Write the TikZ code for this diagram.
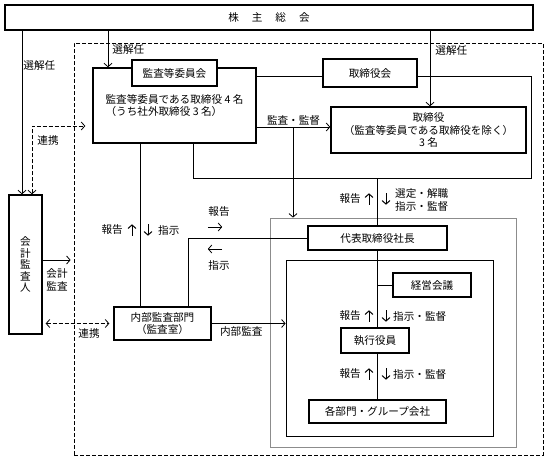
\documentclass[tikz,border=0pt]{standalone}
\usepackage{fontspec}
\setmainfont{Noto Sans CJK JP}
\usetikzlibrary{positioning, calc, arrows.meta}

\begin{document}
\begin{tikzpicture}[
    x=1pt, y=-1pt,
    >={Straight Barb[length=3.5pt,width=8pt]},
    every node/.style={font=\fontsize{10.6}{12.5}\selectfont},
    every edge/.style={draw, line width=0.8pt},
    cmpt/.style={draw, line width=1.4pt, fill=white, inner sep=0pt, align=center},
    grpframe/.style={draw, line width=0.8pt, inner sep=0pt},
    link/.style={draw, line width=0.8pt, dash pattern=on 4pt off 2pt, <->},
    lbl/.style={align=left, inner sep=1pt},
    vmark/.style={inner sep=0pt, minimum width=6, minimum height=11},
    hmark/.style={inner sep=0pt, minimum width=14, minimum height=6},
    upa/.style={vmark, append after command={(\tikzlastnode.south) edge [->, line width=1pt] (\tikzlastnode.north)}},
    dna/.style={vmark, append after command={(\tikzlastnode.north) edge [->, line width=1pt] (\tikzlastnode.south)}},
    rta/.style={hmark, append after command={(\tikzlastnode.west) edge [->] (\tikzlastnode.east)}},
    lfa/.style={hmark, append after command={(\tikzlastnode.east) edge [->] (\tikzlastnode.west)}}]

    \useasboundingbox (0,0) rectangle (549,461);

    \node at (308.5,249) [grpframe, dash pattern=on 4pt off 2pt, minimum width=469, minimum height=412] (cgf) {};
    \node at (393,332.5) [grpframe, draw=black!45, minimum width=246, minimum height=229] (grp) {};
    \node at (389.5,348) [grpframe, minimum width=207, minimum height=176] (exf) {};
    \node at (362,127) [grpframe, minimum width=338, minimum height=102] (bdf) {};

    \node at (269,17.5) [cmpt, minimum width=528, minimum height=25] (gm) {株\hspace{13pt}主\hspace{13pt}総\hspace{13pt}会};
    \node at (25.5,264.5) [cmpt, minimum width=33, minimum height=139, font=\fontsize{10.6}{11.5}\selectfont] (acct) {会\\計\\監\\査\\人};
    \node at (174.5,105.5) [cmpt, minimum width=163, minimum height=75, align=left] (audit) {監査等委員である取締役 4 名\\（うち社外取締役 3 名）};
    \node at (174.5,73) [cmpt, minimum width=85, minimum height=26] (acm) {監査等委員会};
    \node at (370,73) [cmpt, minimum width=94, minimum height=28] (bd) {取締役会};
    \node at (428.5,130) [cmpt, minimum width=195, minimum height=46] (dir) {取締役\\（監査等委員である取締役を除く）\\3 名};
    \node at (377.5,238) [cmpt, minimum width=139, minimum height=24] (ceo) {代表取締役社長};
    \node at (432,285) [cmpt, minimum width=78, minimum height=24] (mtg) {経営会議};
    \node at (375,340.5) [cmpt, minimum width=68, minimum height=25] (exec) {執行役員};
    \node at (377.5,411.5) [cmpt, minimum width=137, minimum height=23] (dept) {各部門・グループ会社};
    \node at (162.5,323.5) [cmpt, minimum width=97, minimum height=33] (ia) {内部監査部門\\（監査室）};

    \coordinate (c1) at (22,0);
    \coordinate (c2) at (108,0);
    \coordinate (c3) at (430,0);
    \coordinate (c4) at (140,0);
    \coordinate (c5) at (188,0);
    \coordinate (c6) at (293,0);
    \coordinate (c7) at (32,126);
    \coordinate (c8) at (0,127);
    \coordinate (c9) at (0,260);

    \path (gm.south -| c1) edge [->] node[lbl, right, pos=0.21] {選解任} (acct.north -| c1);
    \path (gm.south -| c2) edge [->] node[lbl, right=3pt] {選解任} (audit.north -| c2);
    \path (gm.south -| c3) edge [->] node[lbl, right=4pt, pos=0.26] {選解任} (dir.north -| c3);
    \draw[link, shorten >=7pt] (acct.north -| c7) |- (audit.west |- c7);
    \node at (48,140) [lbl] (lk1) {連携};

    \path (audit.east |- c8) edge [->] node[lbl, above] {監査・監督} (dir.west |- c8);
    \draw[->, line width=0.8pt] (c6 |- c8) -- (c6 |- grp.north);

    \draw[line width=0.8pt] (ceo.north |- bdf.south) -- (ceo.north);
    \node [lbl, anchor=east] at (362,199) (r1) {報告};
    \node [upa] at (369,199) (r1a) {};
    \node [dna] at (386,199) (d1a) {};
    \node [lbl, anchor=west] at (394,200) (d1) {選定・解職\\指示・監督};

    \draw[line width=0.8pt] (ceo.south) -- (ceo.south |- exec.north);
    \draw[line width=0.8pt] (mtg.west -| ceo.south) -- (mtg.west);
    \node [lbl, anchor=east] at (362,316) (r2) {報告};
    \node [upa] at (369,316) (r2a) {};
    \node [dna] at (386,316) (d2a) {};
    \node [lbl, anchor=west] at (392,316) (d2) {指示・監督};
    \draw[line width=0.8pt] (exec.south -| ceo.south) -- (dept.north -| ceo.south);
    \node [lbl, anchor=east] at (362,374) (r3) {報告};
    \node [upa] at (369,374) (r3a) {};
    \node [dna] at (386,374) (d3a) {};
    \node [lbl, anchor=west] at (392,374) (d3) {指示・監督};

    \draw[line width=0.8pt] (audit.south -| c4) -- (ia.north -| c4);
    \node [lbl, anchor=east] at (124,230) (r4) {報告};
    \node [upa] at (132,230) (r4a) {};
    \node [dna] at (148,230) (d4a) {};
    \node [lbl, anchor=west] at (157,230) (d4) {指示};
    \draw[line width=0.8pt] (ia.north -| c5) |- (ceo.west);
    \node [lbl] at (219,212) (r5) {報告};
    \node [rta] at (215,227) (r5a) {};
    \node [lfa] at (215,249) (d5a) {};
    \node [lbl] at (219,265) (d5) {指示};

    \path (ia.east) edge [->] node[lbl, below=2pt, pos=0.4] {内部監査} (ia.east -| exf.west);

    \path (acct.east |- c9) edge [->, shorten >=3pt] (c9 -| cgf.west);
    \node [lbl, align=center] at (57,280) (aa) {会計\\監査};
    \draw[link, shorten <=3pt, shorten >=4pt] (acct.east |- ia.west) -- (ia.west);
    \node [lbl] at (89,333) (lk2) {連携};

\end{tikzpicture}
\end{document}
